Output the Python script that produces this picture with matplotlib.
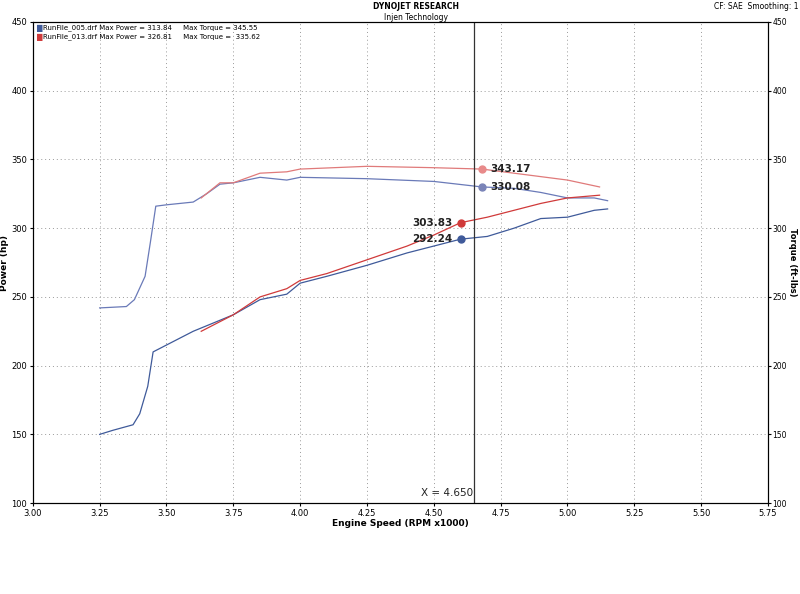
import matplotlib
matplotlib.use("Agg")
import matplotlib.pyplot as plt

bp_x = [3.25,3.30,3.375,3.40,3.43,3.45,3.50,3.60,3.70,3.75,3.85,3.95,4.00,4.10,4.25,4.40,4.50,4.60,4.70,4.80,4.90,5.00,5.10,5.15]
bp_y = [150,153,157,165,185,210,215,225,233,237,248,252,260,265,273,282,287,292,294,300,307,308,313,314]
rp_x = [3.63,3.70,3.75,3.85,3.95,4.00,4.10,4.25,4.40,4.50,4.60,4.70,4.80,4.90,5.00,5.12]
rp_y = [225,232,237,250,256,262,267,277,287,295,304,308,313,318,322,324]
bt_x = [3.25,3.35,3.38,3.42,3.44,3.46,3.50,3.60,3.65,3.70,3.75,3.85,3.95,4.00,4.25,4.50,4.68,4.80,4.90,5.00,5.10,5.15]
bt_y = [242,243,248,265,290,316,317,319,325,332,333,337,335,337,336,334,330,329,326,322,322,320]
rt_x = [3.63,3.70,3.75,3.85,3.95,4.00,4.25,4.50,4.68,4.80,5.00,5.12]
rt_y = [322,333,333,340,341,343,345,344,343,340,335,330]
cursor_x = 4.65
marks = [(4.60, 303.83, "303.83", "#d03a3a", "right"), (4.60, 292.24, "292.24", "#3f5a9a", "right"),
         (4.68, 343.17, "343.17", "#e88a8a", "left"), (4.68, 330.08, "330.08", "#7a84b8", "left")]

fig = plt.figure(figsize=(8, 5.94), dpi=100)
ax = fig.add_axes([0.041, 0.153, 0.919, 0.81])
ax.set_xlim(3.0, 5.75); ax.set_ylim(100, 450)
xt = [3.0 + 0.25*i for i in range(12)]
ax.set_xticks(xt); ax.set_xticklabels([f"{v:.2f}" for v in xt], fontsize=6)
yt = list(range(100, 451, 50))
ax.set_yticks(yt); ax.set_yticklabels([str(v) for v in yt], fontsize=6)
ax.grid(True, linestyle=(0, (1, 3)), color="#999999", linewidth=0.7)
ax.tick_params(length=2, pad=2)
ax.plot(bt_x, bt_y, color="#6a7ab8", lw=0.9)
ax.plot(rt_x, rt_y, color="#e07a7a", lw=0.9)
ax.plot(bp_x, bp_y, color="#3f5a9a", lw=0.9)
ax.plot(rp_x, rp_y, color="#d03a3a", lw=0.9)
ax.axvline(cursor_x, color="#333333", lw=0.9)
for x, y, t, c, side in marks:
    ax.plot([x], [y], "o", color=c, ms=5)
    if side == "right":
        ax.text(x - 0.03, y, t, ha="right", va="center", fontsize=7.5, fontweight="bold", color="#222222")
    else:
        ax.text(x + 0.03, y, t, ha="left", va="center", fontsize=7.5, fontweight="bold", color="#222222")
ax.text(4.55, 104, "X = 4.650", ha="center", va="bottom", fontsize=7.5, color="#222222")
ax.set_xlabel("Engine Speed (RPM x1000)", fontsize=6.5, fontweight="bold", labelpad=1)
ax.set_ylabel("Power (hp)", fontsize=6.5, fontweight="bold", labelpad=2)
ax2 = ax.twinx()
ax2.set_ylim(100, 450); ax2.set_yticks(yt)
ax2.set_yticklabels([str(v) for v in yt], fontsize=5.5)
ax2.tick_params(length=2, pad=1)
ax2.set_ylabel("Torque (ft-lbs)", fontsize=6, fontweight="bold", rotation=270, labelpad=7)
ax.text(0.005, 0.993, "\u2588 ", transform=ax.transAxes, fontsize=5, color="#3f5a9a", va="top")
ax.text(0.005, 0.975, "\u2588 ", transform=ax.transAxes, fontsize=5, color="#d03a3a", va="top")
ax.text(0.014, 0.995, "RunFile_005.drf Max Power = 313.84     Max Torque = 345.55", transform=ax.transAxes, fontsize=5, va="top")
ax.text(0.014, 0.977, "RunFile_013.drf Max Power = 326.81     Max Torque =  335.62", transform=ax.transAxes, fontsize=5, va="top")
fig.text(0.52, 0.997, "DYNOJET RESEARCH", ha="center", va="top", fontsize=5.5, fontweight="bold")
fig.text(0.52, 0.978, "Injen Technology", ha="center", va="top", fontsize=5.5)
fig.text(0.998, 0.997, "CF: SAE  Smoothing: 1", ha="right", va="top", fontsize=5.5)
fig.savefig("out.png", dpi=100)
